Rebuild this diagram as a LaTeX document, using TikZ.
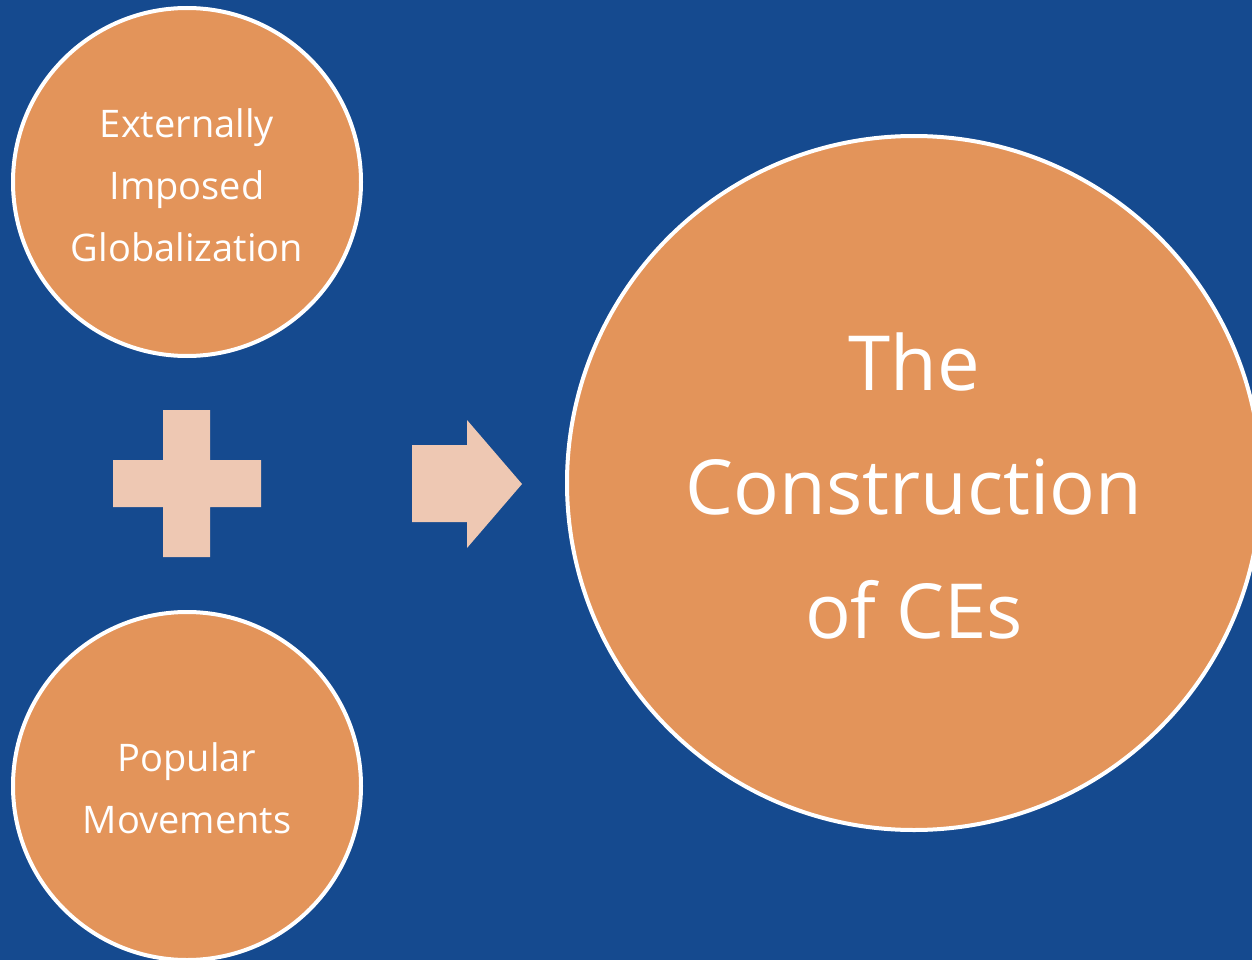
\documentclass[tikz,border=0pt]{standalone}
\usepackage{fontspec}
\setmainfont{Open Sans}
\definecolor{bg}{HTML}{154A8F}
\definecolor{orng}{HTML}{E3945A}
\definecolor{pale}{HTML}{EEC8B3}
\begin{document}
\begin{tikzpicture}[x=1pt,y=-1pt,
  bubble/.style={circle,fill=orng,draw=white,line width=4pt,inner sep=0pt},
  smalltxt/.style={text=white,align=center,font=\fontsize{38}{62}\selectfont},
  bigtxt/.style={text=white,align=center,font=\fontsize{76}{124}\selectfont},
  shapefill/.style={fill=pale,draw=none}]
\useasboundingbox (0,0) rectangle (1252,960);
\fill[bg] (0,0) rectangle (1252,960);
\clip (0,0) rectangle (1252,960);
\node[bubble,minimum size=348pt] (c1) at (187,182) {};
\node[bubble,minimum size=348pt] (c2) at (187,786) {};
\node[bubble,minimum size=694pt] (c3) at (914,483) {};
\node[smalltxt] (t1) at (187,185) {Externally\\Imposed\\Globalization};
\node[smalltxt] (t2) at (187,788) {Popular\\Movements};
\node[bigtxt] (t3) at (914,486) {The\\Construction\\of CEs};
\fill[shapefill] (163,410) -- (210,410) -- (210,460) -- (261,460) -- (261,507) -- (210,507) -- (210,557) -- (163,557) -- (163,507) -- (113,507) -- (113,460) -- (163,460) -- cycle;
\fill[shapefill] (412,445) -- (467,445) -- (467,420) -- (522,484) -- (467,548) -- (467,522) -- (412,522) -- cycle;
\end{tikzpicture}
\end{document}
